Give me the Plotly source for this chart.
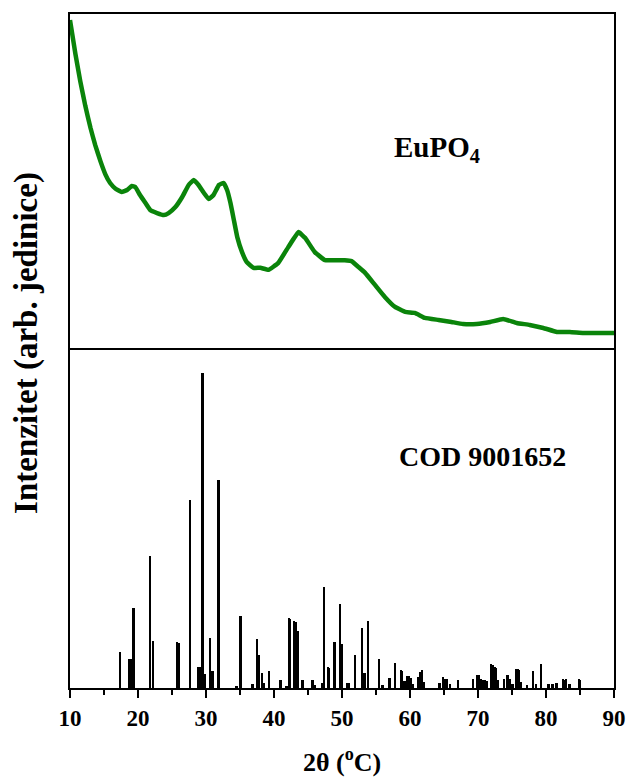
import plotly.graph_objects as go
from plotly.subplots import make_subplots

# Measured XRD pattern of EuPO4 (2theta in degrees, intensity in arb. units)
two_theta = [10.0, 10.8, 11.5, 12.25, 13.0, 13.7, 14.5, 15.2, 15.9, 16.7, 17.6, 18.4, 19.1, 19.6,
             20.3, 21.1, 21.8, 22.8, 23.8, 24.5, 25.5, 26.5, 27.45, 28.2, 28.9, 29.7, 30.4, 31.1,
             31.9, 32.6, 33.1, 33.6, 34.1, 34.6, 35.3, 36.0, 37.0, 38.0, 39.2, 40.6, 42.1, 43.6,
             44.6, 46.0, 47.5, 49.0, 50.4, 51.4, 52.4, 53.4, 54.85, 56.3, 57.8, 59.3, 60.7, 62.2,
             64.2, 66.1, 67.8, 69.8, 71.8, 73.7, 75.7, 77.6, 79.6, 81.6, 83.5, 85.5, 87.5, 90.0]
intensity = [982, 880, 800, 725, 660, 608, 558, 520, 494, 477, 467, 473, 485, 482,
             458, 434, 413, 404, 398, 404, 422, 452, 488, 503, 488, 464, 446, 458,
             488, 494, 473, 434, 383, 332, 287, 257, 240, 240, 234, 254, 302, 347,
             329, 287, 263, 263, 263, 260, 243, 225, 189, 153, 123, 108, 105, 90,
             84, 78, 72, 72, 78, 87, 75, 69, 60, 48, 48, 45, 45, 45]

# Reference reflections, COD 9001652 (2theta, relative intensity)
ref_pos = [17.4, 18.8, 19.0, 19.4, 21.8, 22.25, 25.8, 26.0, 27.65, 28.95, 29.15, 29.5, 29.85,
           30.65, 31.0, 31.9, 34.5, 35.1, 36.9, 37.55, 37.85, 38.3, 38.6, 39.3, 41.0, 41.9,
           42.2, 42.4, 43.0, 43.2, 43.5, 44.2, 45.7, 46.0, 47.1, 47.35, 48.0, 48.15, 48.95,
           49.7, 49.95, 50.8, 51.1, 51.95, 52.95, 53.2, 53.45, 53.9, 55.5, 56.0, 57.05, 57.8,
           58.75, 58.9, 59.2, 59.6, 59.8, 60.15, 60.4, 61.2, 61.5, 61.8, 62.0, 64.4, 64.85,
           65.2, 65.5, 65.9, 67.1, 69.3, 69.95, 70.1, 70.4, 70.8, 71.1, 71.4, 71.95, 72.2,
           72.5, 72.7, 73.0, 73.9, 74.4, 74.7, 75.1, 75.65, 75.9, 76.1, 76.4, 77.2, 78.15,
           78.6, 79.3, 80.4, 81.0, 81.6, 82.5, 82.8, 83.0, 83.5, 84.85, 85.05]
ref_int = [11.5, 9.2, 9.2, 25.5, 42, 15, 14.6, 14.3, 59.6, 6.7, 6.7, 100, 4.5,
           16, 5.4, 66, 0.5, 23, 1.3, 15.6, 10.6, 4.8, 1.6, 5.4, 2.5, 0.7,
           22.3, 21.8, 21.3, 21.0, 18, 2.5, 2.5, 1.0, 1.5, 32, 6.7, 6.4, 14.6,
           26.8, 14, 1.5, 1.5, 10.5, 19.2, 4.8, 4.8, 21.3, 9.2, 0.8, 3.2, 8,
           5.7, 5.5, 2.2, 3.8, 3.8, 3.2, 1.2, 3.5, 5.1, 5.7, 2, 1.5, 3.5,
           3, 3.0, 1.3, 2.5, 2.9, 4.1, 4.1, 2.9, 2.5, 2.5, 2.3, 7.6, 7.4,
           6.7, 6.5, 2.5, 2.9, 4.1, 2.8, 1.2, 6, 6, 5.8, 2, 1, 5.4,
           1.2, 7.6, 1.2, 1.3, 1.5, 2.8, 2.6, 2.8, 1.3, 2.9, 2.5]

x_ticks = [10, 20, 30, 40, 50, 60, 70, 80, 90]

SERIF = "Liberation Serif"

fig = make_subplots(rows=2, cols=1, shared_xaxes=True, vertical_spacing=0,
                    row_heights=[334, 340])

fig.add_trace(go.Scatter(x=two_theta, y=intensity, mode="lines",
                         line=dict(color="#0a840a", width=4.5, shape="spline", smoothing=0.3),
                         showlegend=False), row=1, col=1)

fig.add_trace(go.Bar(x=ref_pos, y=ref_int, width=0.28,
                     marker=dict(color="black", line=dict(width=0)),
                     showlegend=False), row=2, col=1)

line_style = dict(showline=True, linecolor="black", linewidth=2,
                  showgrid=False, zeroline=False, automargin=False)

# upper frame: top edge plus the divider between the panels
fig.update_xaxes(range=[10, 90], showticklabels=False, ticks="", mirror=True,
                 **line_style, row=1, col=1)
# lower frame: bottom edge with the 2theta ticks
fig.update_xaxes(range=[10, 90], tickvals=x_ticks, ticktext=[str(v) for v in x_ticks],
                 ticks="outside", ticklen=8, tickwidth=2, tickcolor="black",
                 ticklabeloverflow="allow",
                 minor=dict(ticks="outside", ticklen=5, tickwidth=2, tickcolor="black",
                            tick0=15, dtick=10),
                 tickfont=dict(family=SERIF, size=23, color="black", weight="bold"),
                 mirror=False, **line_style, row=2, col=1)
fig.update_yaxes(range=[0, 1000], showticklabels=False, ticks="", mirror=True,
                 **line_style, row=1, col=1)
fig.update_yaxes(range=[0, 108], showticklabels=False, ticks="", mirror=True,
                 **line_style, row=2, col=1)

fig.add_annotation(x=64.0, y=596, xref="x", yref="y", text="EuPO<sub>4</sub>",
                   showarrow=False, xanchor="center", yanchor="middle",
                   font=dict(family=SERIF, size=29, color="black", weight="bold"))
fig.add_annotation(x=70.7, y=73.5, xref="x2", yref="y2", text="COD 9001652",
                   showarrow=False, xanchor="center", yanchor="middle",
                   font=dict(family=SERIF, size=28, color="black", weight="bold"))
fig.add_annotation(x=-0.079, y=0.512, xref="paper", yref="paper", textangle=-90,
                   xanchor="center", yanchor="middle",
                   text="Intenzitet (arb. jedinice)", showarrow=False,
                   font=dict(family=SERIF, size=33, color="black", weight="bold"))
fig.add_annotation(x=0.5, y=-0.107, xref="paper", yref="paper",
                   xanchor="center", yanchor="middle",
                   text="2θ (<sup>o</sup>C)", showarrow=False,
                   font=dict(family=SERIF, size=26, color="black", weight="bold"))

fig.update_layout(width=629, height=778, autosize=False,
                  margin=dict(l=70, r=15, t=14, b=90, autoexpand=False),
                  plot_bgcolor="white", paper_bgcolor="white", barmode="overlay",
                  bargap=0)

fig.write_html("out.html")
